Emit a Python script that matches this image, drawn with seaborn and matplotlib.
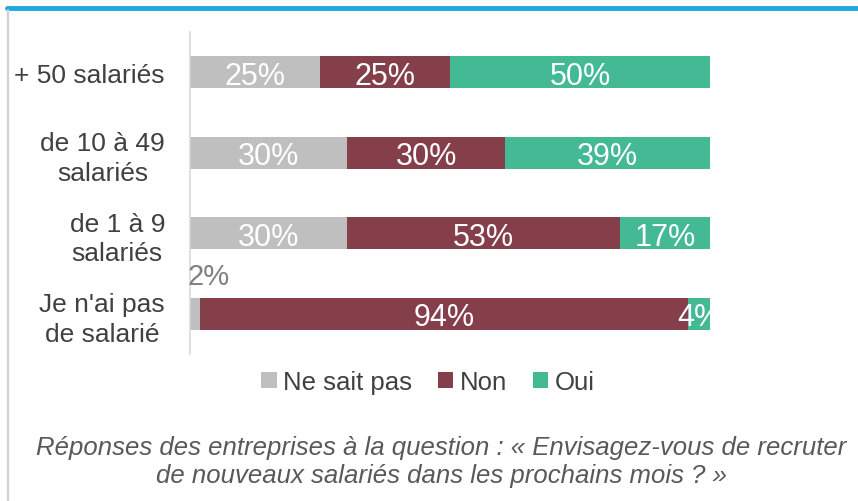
import numpy as np
import pandas as pd
import matplotlib
matplotlib.use("Agg")
import matplotlib.pyplot as plt
import seaborn as sns
from matplotlib.patches import Patch
from matplotlib.lines import Line2D

categories = ["+ 50 salariés", "de 10 à 49\nsalariés", "de 1 à 9\nsalariés", "Je n'ai pas\nde salarié"]
ne_sait_pas = [25.0, 30.2, 30.2, 1.9]
non = [25.0, 30.4, 52.5, 93.9]
oui = [50.0, 39.4, 17.3, 4.2]
labels_nsp = ["25%", "30%", "30%", "2%"]
labels_non = ["25%", "30%", "53%", "94%"]
labels_oui = ["50%", "39%", "17%", "4%"]
series_names = ["Ne sait pas", "Non", "Oui"]
colors = ["#BFBFBF", "#843F4B", "#43B994"]

sns.set_style("white")
plt.rcParams['font.family'] = ['Liberation Sans', 'DejaVu Sans']

df = pd.DataFrame({"cat": categories, "nsp": ne_sait_pas, "non": non, "oui": oui})
df["c1"] = df["nsp"]
df["c2"] = df["nsp"] + df["non"]
df["c3"] = df["c2"] + df["oui"]

fig = plt.figure(figsize=(8.58, 5.02), dpi=100)
ax = fig.add_axes([190 / 858, 1 - 355 / 502, 520 / 858, 322 / 502])

# stacked bars by drawing cumulative totals, largest first
for col, c in zip(["c3", "c2", "c1"], colors[::-1]):
    sns.barplot(data=df, x=col, y="cat", orient="h", color=c, width=0.4,
                saturation=1, ax=ax, linewidth=0)

ax.set_xlim(0, 100)
ax.set_ylim(3.5, -0.5)
ax.set_xlabel("")
ax.set_ylabel("")
ax.set_xticks([])
ax.tick_params(axis="y", length=0, labelsize=19, labelcolor="#404040", pad=18)
for lab in ax.get_yticklabels():
    lab.set_multialignment("center")
    lab.set_linespacing(1.3)
for s in ["top", "right", "bottom"]:
    ax.spines[s].set_visible(False)
ax.spines["left"].set_color("#D9D9D9")
ax.spines["left"].set_linewidth(1.2)

# value labels
for i in range(len(categories)):
    starts = [0, df["c1"][i], df["c2"][i]]
    widths = [ne_sait_pas[i], non[i], oui[i]]
    labs = [labels_nsp[i], labels_non[i], labels_oui[i]]
    for k in range(3):
        if k == 0 and widths[k] < 5:
            ax.text(starts[k] - 0.4, i - 0.29, labs[k], ha="left", va="bottom",
                    color="#808080", fontsize=21, clip_on=False)
            continue
        ax.text(starts[k] + widths[k] / 2, i, labs[k], ha="center", va="center_baseline",
                color="white", fontsize=22, clip_on=True)

handles = [Patch(facecolor=c, edgecolor="none") for c in colors]
fig.legend(handles, series_names, loc="center", bbox_to_anchor=(428 / 858, 1 - 383 / 502),
           ncol=3, frameon=False, fontsize=18.5, handlelength=0.6, handleheight=0.6,
           handletextpad=0.25, columnspacing=1.0, labelcolor="#404040")

fig.text(441 / 858, 1 - 462 / 502,
         "Réponses des entreprises à la question : « Envisagez-vous de recruter\nde nouveaux salariés dans les prochains mois ? »",
         ha="center", va="center", fontsize=18.5, style="italic", color="#595959",
         linespacing=1.25)

# top blue rule and left shadow
fig.add_artist(Line2D([7 / 858, 1], [1 - 9 / 502, 1 - 9 / 502], color="#1DA9E0", lw=3.5))
fig.add_artist(Line2D([8 / 858, 8 / 858], [0, 1 - 11 / 502], color="#D0D0D0", lw=1.5))

fig.savefig("out.png", dpi=100)
